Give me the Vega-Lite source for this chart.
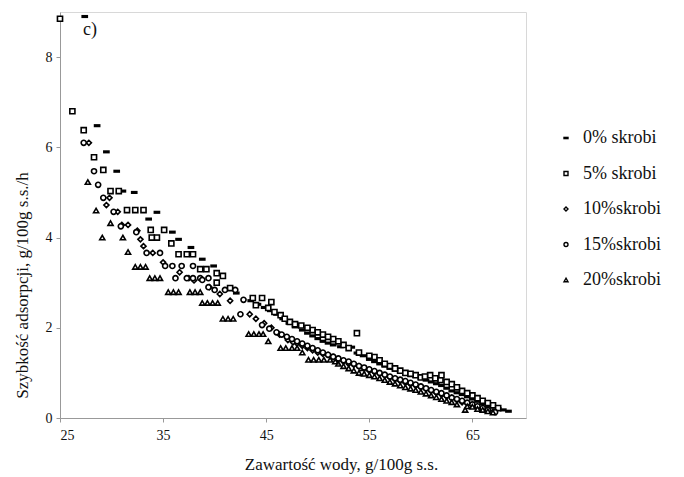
{
  "$schema": "https://vega.github.io/schema/vega-lite/v6.json",
  "width": 466,
  "height": 406,
  "autosize": {"type": "none"},
  "padding": {"left": 60, "top": 12, "right": 158, "bottom": 59},
  "background": "white",
  "config": {
    "font": "Liberation Serif",
    "view": {"stroke": "#d8d8d8", "strokeWidth": 1},
    "axis": {"grid": false, "domainColor": "#999999", "tickColor": "#999999", "tickSize": 4, "labelFont": "Liberation Serif", "labelFontSize": 14, "labelColor": "#111111", "titleFont": "Liberation Serif", "titleFontSize": 17, "titleFontWeight": "normal", "titleColor": "#111111"}
  },
  "datasets": {
    "pts": [
      {"s": "0% skrobi", "x": 27.4, "y": 8.9}, {"s": "0% skrobi", "x": 28.6, "y": 6.48}, {"s": "0% skrobi", "x": 29.5, "y": 5.9}, {"s": "0% skrobi", "x": 30.5, "y": 5.47}, {"s": "0% skrobi", "x": 31.1, "y": 5.03}, {"s": "0% skrobi", "x": 32.2, "y": 5.0}, {"s": "0% skrobi", "x": 33.6, "y": 4.41}, {"s": "0% skrobi", "x": 34.4, "y": 4.56}, {"s": "0% skrobi", "x": 35.9, "y": 4.12}, {"s": "0% skrobi", "x": 36.5, "y": 3.96}, {"s": "0% skrobi", "x": 37.7, "y": 3.78}, {"s": "0% skrobi", "x": 38.8, "y": 3.52}, {"s": "0% skrobi", "x": 39.9, "y": 3.37}, {"s": "0% skrobi", "x": 41.5, "y": 2.88}, {"s": "0% skrobi", "x": 42.1, "y": 2.77}, {"s": "0% skrobi", "x": 43.5, "y": 2.6}, {"s": "0% skrobi", "x": 44.8, "y": 2.45}, {"s": "0% skrobi", "x": 46.0, "y": 2.3}, {"s": "0% skrobi", "x": 47.2, "y": 2.1}, {"s": "0% skrobi", "x": 48.5, "y": 1.95}, {"s": "0% skrobi", "x": 49.5, "y": 1.82}, {"s": "0% skrobi", "x": 50.5, "y": 1.7}, {"s": "0% skrobi", "x": 51.5, "y": 1.62}, {"s": "0% skrobi", "x": 53.3, "y": 1.57}, {"s": "0% skrobi", "x": 53.8, "y": 1.44}, {"s": "0% skrobi", "x": 55.0, "y": 1.3}, {"s": "0% skrobi", "x": 56.0, "y": 1.2}, {"s": "0% skrobi", "x": 57.0, "y": 1.1}, {"s": "0% skrobi", "x": 58.0, "y": 1.02}, {"s": "0% skrobi", "x": 59.0, "y": 0.95}, {"s": "0% skrobi", "x": 60.0, "y": 0.88}, {"s": "0% skrobi", "x": 61.0, "y": 0.8}, {"s": "0% skrobi", "x": 62.0, "y": 0.72}, {"s": "0% skrobi", "x": 63.0, "y": 0.6}, {"s": "0% skrobi", "x": 64.0, "y": 0.52}, {"s": "0% skrobi", "x": 65.0, "y": 0.42}, {"s": "0% skrobi", "x": 66.0, "y": 0.32}, {"s": "0% skrobi", "x": 67.0, "y": 0.25}, {"s": "0% skrobi", "x": 68.0, "y": 0.18}, {"s": "0% skrobi", "x": 68.5, "y": 0.15},
      {"s": "0% skrobi", "x": 44.2, "y": 2.52}, {"s": "0% skrobi", "x": 45.4, "y": 2.38}, {"s": "0% skrobi", "x": 46.6, "y": 2.2}, {"s": "0% skrobi", "x": 47.8, "y": 2.02}, {"s": "0% skrobi", "x": 49.0, "y": 1.88}, {"s": "0% skrobi", "x": 50.0, "y": 1.76}, {"s": "0% skrobi", "x": 51.0, "y": 1.66}, {"s": "0% skrobi", "x": 52.2, "y": 1.58}, {"s": "0% skrobi", "x": 54.4, "y": 1.38}, {"s": "0% skrobi", "x": 55.5, "y": 1.25}, {"s": "0% skrobi", "x": 56.5, "y": 1.15}, {"s": "0% skrobi", "x": 57.5, "y": 1.06}, {"s": "0% skrobi", "x": 58.5, "y": 0.98}, {"s": "0% skrobi", "x": 59.5, "y": 0.92}, {"s": "0% skrobi", "x": 60.5, "y": 0.84}, {"s": "0% skrobi", "x": 61.5, "y": 0.76}, {"s": "0% skrobi", "x": 62.5, "y": 0.66}, {"s": "0% skrobi", "x": 63.5, "y": 0.56}, {"s": "0% skrobi", "x": 64.5, "y": 0.47}, {"s": "0% skrobi", "x": 65.5, "y": 0.37}, {"s": "0% skrobi", "x": 66.5, "y": 0.28}, {"s": "0% skrobi", "x": 67.5, "y": 0.21},

      {"s": "5% skrobi", "x": 25.0, "y": 8.85}, {"s": "5% skrobi", "x": 26.2, "y": 6.8}, {"s": "5% skrobi", "x": 27.3, "y": 6.38}, {"s": "5% skrobi", "x": 28.3, "y": 5.78}, {"s": "5% skrobi", "x": 29.2, "y": 5.5}, {"s": "5% skrobi", "x": 29.9, "y": 5.03}, {"s": "5% skrobi", "x": 30.7, "y": 5.03}, {"s": "5% skrobi", "x": 31.5, "y": 4.61}, {"s": "5% skrobi", "x": 32.3, "y": 4.61}, {"s": "5% skrobi", "x": 33.1, "y": 4.61}, {"s": "5% skrobi", "x": 33.8, "y": 4.17}, {"s": "5% skrobi", "x": 35.1, "y": 4.17}, {"s": "5% skrobi", "x": 34.4, "y": 4.0}, {"s": "5% skrobi", "x": 33.9, "y": 4.0}, {"s": "5% skrobi", "x": 35.8, "y": 3.87}, {"s": "5% skrobi", "x": 36.5, "y": 3.63}, {"s": "5% skrobi", "x": 37.3, "y": 3.63}, {"s": "5% skrobi", "x": 37.9, "y": 3.63}, {"s": "5% skrobi", "x": 38.6, "y": 3.3}, {"s": "5% skrobi", "x": 39.2, "y": 3.3}, {"s": "5% skrobi", "x": 40.2, "y": 3.21}, {"s": "5% skrobi", "x": 40.8, "y": 3.15}, {"s": "5% skrobi", "x": 40.2, "y": 3.0}, {"s": "5% skrobi", "x": 41.5, "y": 2.88}, {"s": "5% skrobi", "x": 43.7, "y": 2.66}, {"s": "5% skrobi", "x": 44.6, "y": 2.66}, {"s": "5% skrobi", "x": 45.5, "y": 2.57}, {"s": "5% skrobi", "x": 45.2, "y": 2.44}, {"s": "5% skrobi", "x": 46.4, "y": 2.28}, {"s": "5% skrobi", "x": 47.3, "y": 2.13}, {"s": "5% skrobi", "x": 48.4, "y": 2.05}, {"s": "5% skrobi", "x": 49.5, "y": 1.95}, {"s": "5% skrobi", "x": 50.5, "y": 1.85}, {"s": "5% skrobi", "x": 51.5, "y": 1.75}, {"s": "5% skrobi", "x": 53.8, "y": 1.88}, {"s": "5% skrobi", "x": 52.5, "y": 1.62}, {"s": "5% skrobi", "x": 54.3, "y": 1.0}, {"s": "5% skrobi", "x": 55.5, "y": 1.35}, {"s": "5% skrobi", "x": 57.0, "y": 1.15}, {"s": "5% skrobi", "x": 58.0, "y": 1.05}, {"s": "5% skrobi", "x": 59.5, "y": 0.95}, {"s": "5% skrobi", "x": 60.9, "y": 0.95}, {"s": "5% skrobi", "x": 61.9, "y": 0.84}, {"s": "5% skrobi", "x": 62.0, "y": 0.95}, {"s": "5% skrobi", "x": 63.0, "y": 0.75}, {"s": "5% skrobi", "x": 64.0, "y": 0.6}, {"s": "5% skrobi", "x": 65.0, "y": 0.5}, {"s": "5% skrobi", "x": 66.0, "y": 0.38}, {"s": "5% skrobi", "x": 67.0, "y": 0.28},
      {"s": "5% skrobi", "x": 47.8, "y": 2.08}, {"s": "5% skrobi", "x": 49.0, "y": 2.0}, {"s": "5% skrobi", "x": 50.0, "y": 1.9}, {"s": "5% skrobi", "x": 51.0, "y": 1.8}, {"s": "5% skrobi", "x": 52.0, "y": 1.7}, {"s": "5% skrobi", "x": 53.0, "y": 1.55}, {"s": "5% skrobi", "x": 54.0, "y": 1.45}, {"s": "5% skrobi", "x": 55.0, "y": 1.38}, {"s": "5% skrobi", "x": 56.0, "y": 1.28}, {"s": "5% skrobi", "x": 56.5, "y": 1.2}, {"s": "5% skrobi", "x": 57.5, "y": 1.1}, {"s": "5% skrobi", "x": 58.5, "y": 1.0}, {"s": "5% skrobi", "x": 59.0, "y": 0.98}, {"s": "5% skrobi", "x": 60.0, "y": 0.9}, {"s": "5% skrobi", "x": 60.4, "y": 0.92}, {"s": "5% skrobi", "x": 61.4, "y": 0.88}, {"s": "5% skrobi", "x": 62.5, "y": 0.8}, {"s": "5% skrobi", "x": 63.5, "y": 0.68}, {"s": "5% skrobi", "x": 64.5, "y": 0.55}, {"s": "5% skrobi", "x": 65.5, "y": 0.44}, {"s": "5% skrobi", "x": 66.5, "y": 0.33}, {"s": "5% skrobi", "x": 67.5, "y": 0.22}, {"s": "5% skrobi", "x": 44.0, "y": 2.5}, {"s": "5% skrobi", "x": 45.8, "y": 2.35}, {"s": "5% skrobi", "x": 46.8, "y": 2.2},

      {"s": "10%skrobi", "x": 27.8, "y": 6.1}, {"s": "10%skrobi", "x": 29.8, "y": 4.88}, {"s": "10%skrobi", "x": 29.5, "y": 4.72}, {"s": "10%skrobi", "x": 30.6, "y": 4.57}, {"s": "10%skrobi", "x": 31.0, "y": 4.28}, {"s": "10%skrobi", "x": 31.6, "y": 4.28}, {"s": "10%skrobi", "x": 32.5, "y": 4.15}, {"s": "10%skrobi", "x": 32.8, "y": 3.96}, {"s": "10%skrobi", "x": 33.1, "y": 3.81}, {"s": "10%skrobi", "x": 34.0, "y": 3.66}, {"s": "10%skrobi", "x": 36.6, "y": 3.23}, {"s": "10%skrobi", "x": 37.5, "y": 3.1}, {"s": "10%skrobi", "x": 39.5, "y": 2.9}, {"s": "10%skrobi", "x": 40.5, "y": 2.75}, {"s": "10%skrobi", "x": 41.5, "y": 2.6}, {"s": "10%skrobi", "x": 43.4, "y": 2.3}, {"s": "10%skrobi", "x": 44.0, "y": 2.2}, {"s": "10%skrobi", "x": 45.5, "y": 2.0}, {"s": "10%skrobi", "x": 47.1, "y": 1.73}, {"s": "10%skrobi", "x": 48.0, "y": 1.65}, {"s": "10%skrobi", "x": 49.0, "y": 1.55}, {"s": "10%skrobi", "x": 50.0, "y": 1.45}, {"s": "10%skrobi", "x": 51.0, "y": 1.4}, {"s": "10%skrobi", "x": 52.0, "y": 1.3}, {"s": "10%skrobi", "x": 53.0, "y": 1.2}, {"s": "10%skrobi", "x": 54.0, "y": 1.15}, {"s": "10%skrobi", "x": 55.0, "y": 1.05}, {"s": "10%skrobi", "x": 56.0, "y": 0.98}, {"s": "10%skrobi", "x": 57.0, "y": 0.9}, {"s": "10%skrobi", "x": 58.0, "y": 0.82}, {"s": "10%skrobi", "x": 59.0, "y": 0.75}, {"s": "10%skrobi", "x": 60.0, "y": 0.68}, {"s": "10%skrobi", "x": 61.0, "y": 0.6}, {"s": "10%skrobi", "x": 62.0, "y": 0.52}, {"s": "10%skrobi", "x": 63.0, "y": 0.45}, {"s": "10%skrobi", "x": 64.0, "y": 0.35}, {"s": "10%skrobi", "x": 65.0, "y": 0.28}, {"s": "10%skrobi", "x": 66.0, "y": 0.2}, {"s": "10%skrobi", "x": 67.0, "y": 0.14},
      {"s": "10%skrobi", "x": 44.8, "y": 2.1}, {"s": "10%skrobi", "x": 46.3, "y": 1.85}, {"s": "10%skrobi", "x": 47.6, "y": 1.68}, {"s": "10%skrobi", "x": 48.5, "y": 1.6}, {"s": "10%skrobi", "x": 49.5, "y": 1.5}, {"s": "10%skrobi", "x": 50.5, "y": 1.42}, {"s": "10%skrobi", "x": 51.5, "y": 1.35}, {"s": "10%skrobi", "x": 52.5, "y": 1.25}, {"s": "10%skrobi", "x": 53.5, "y": 1.18}, {"s": "10%skrobi", "x": 54.5, "y": 1.1}, {"s": "10%skrobi", "x": 55.5, "y": 1.02}, {"s": "10%skrobi", "x": 56.5, "y": 0.94}, {"s": "10%skrobi", "x": 57.5, "y": 0.86}, {"s": "10%skrobi", "x": 58.5, "y": 0.78}, {"s": "10%skrobi", "x": 59.5, "y": 0.72}, {"s": "10%skrobi", "x": 60.5, "y": 0.64}, {"s": "10%skrobi", "x": 61.5, "y": 0.56}, {"s": "10%skrobi", "x": 62.5, "y": 0.48}, {"s": "10%skrobi", "x": 63.5, "y": 0.4}, {"s": "10%skrobi", "x": 64.5, "y": 0.32}, {"s": "10%skrobi", "x": 65.5, "y": 0.24}, {"s": "10%skrobi", "x": 66.5, "y": 0.17}, {"s": "10%skrobi", "x": 38.0, "y": 3.05}, {"s": "10%skrobi", "x": 35.0, "y": 3.45},

      {"s": "15%skrobi", "x": 27.3, "y": 6.1}, {"s": "15%skrobi", "x": 28.3, "y": 5.47}, {"s": "15%skrobi", "x": 28.7, "y": 5.17}, {"s": "15%skrobi", "x": 29.2, "y": 4.88}, {"s": "15%skrobi", "x": 30.2, "y": 4.57}, {"s": "15%skrobi", "x": 30.9, "y": 4.25}, {"s": "15%skrobi", "x": 32.4, "y": 4.12}, {"s": "15%skrobi", "x": 33.4, "y": 3.66}, {"s": "15%skrobi", "x": 34.7, "y": 3.66}, {"s": "15%skrobi", "x": 35.2, "y": 3.37}, {"s": "15%skrobi", "x": 35.9, "y": 3.37}, {"s": "15%skrobi", "x": 36.8, "y": 3.37}, {"s": "15%skrobi", "x": 37.9, "y": 3.37}, {"s": "15%skrobi", "x": 36.2, "y": 3.1}, {"s": "15%skrobi", "x": 37.3, "y": 3.1}, {"s": "15%skrobi", "x": 37.9, "y": 3.1}, {"s": "15%skrobi", "x": 38.6, "y": 3.1}, {"s": "15%skrobi", "x": 39.4, "y": 3.1}, {"s": "15%skrobi", "x": 38.8, "y": 3.06}, {"s": "15%skrobi", "x": 39.4, "y": 2.9}, {"s": "15%skrobi", "x": 40.0, "y": 2.84}, {"s": "15%skrobi", "x": 41.0, "y": 2.84}, {"s": "15%skrobi", "x": 42.0, "y": 2.84}, {"s": "15%skrobi", "x": 42.8, "y": 2.62}, {"s": "15%skrobi", "x": 42.5, "y": 2.3}, {"s": "15%skrobi", "x": 44.6, "y": 2.06}, {"s": "15%skrobi", "x": 46.0, "y": 1.9}, {"s": "15%skrobi", "x": 47.0, "y": 1.8}, {"s": "15%skrobi", "x": 48.0, "y": 1.7}, {"s": "15%skrobi", "x": 49.0, "y": 1.6}, {"s": "15%skrobi", "x": 50.0, "y": 1.5}, {"s": "15%skrobi", "x": 51.0, "y": 1.4}, {"s": "15%skrobi", "x": 52.0, "y": 1.32}, {"s": "15%skrobi", "x": 53.0, "y": 1.25}, {"s": "15%skrobi", "x": 54.0, "y": 1.15}, {"s": "15%skrobi", "x": 55.0, "y": 1.08}, {"s": "15%skrobi", "x": 56.0, "y": 1.0}, {"s": "15%skrobi", "x": 57.0, "y": 0.92}, {"s": "15%skrobi", "x": 58.0, "y": 0.85}, {"s": "15%skrobi", "x": 59.0, "y": 0.78}, {"s": "15%skrobi", "x": 60.0, "y": 0.7}, {"s": "15%skrobi", "x": 61.0, "y": 0.62}, {"s": "15%skrobi", "x": 62.0, "y": 0.55}, {"s": "15%skrobi", "x": 63.0, "y": 0.45}, {"s": "15%skrobi", "x": 64.0, "y": 0.38}, {"s": "15%skrobi", "x": 65.0, "y": 0.3}, {"s": "15%skrobi", "x": 66.0, "y": 0.22}, {"s": "15%skrobi", "x": 67.2, "y": 0.13},
      {"s": "15%skrobi", "x": 45.3, "y": 1.98}, {"s": "15%skrobi", "x": 46.5, "y": 1.85}, {"s": "15%skrobi", "x": 47.5, "y": 1.75}, {"s": "15%skrobi", "x": 48.5, "y": 1.65}, {"s": "15%skrobi", "x": 49.5, "y": 1.55}, {"s": "15%skrobi", "x": 50.5, "y": 1.45}, {"s": "15%skrobi", "x": 51.5, "y": 1.36}, {"s": "15%skrobi", "x": 52.5, "y": 1.28}, {"s": "15%skrobi", "x": 53.5, "y": 1.2}, {"s": "15%skrobi", "x": 54.5, "y": 1.12}, {"s": "15%skrobi", "x": 55.5, "y": 1.04}, {"s": "15%skrobi", "x": 56.5, "y": 0.96}, {"s": "15%skrobi", "x": 57.5, "y": 0.88}, {"s": "15%skrobi", "x": 58.5, "y": 0.82}, {"s": "15%skrobi", "x": 59.5, "y": 0.74}, {"s": "15%skrobi", "x": 60.5, "y": 0.66}, {"s": "15%skrobi", "x": 61.5, "y": 0.58}, {"s": "15%skrobi", "x": 62.5, "y": 0.5}, {"s": "15%skrobi", "x": 63.5, "y": 0.42}, {"s": "15%skrobi", "x": 64.5, "y": 0.34}, {"s": "15%skrobi", "x": 65.5, "y": 0.26}, {"s": "15%skrobi", "x": 66.5, "y": 0.18},

      {"s": "20%skrobi", "x": 27.7, "y": 5.23}, {"s": "20%skrobi", "x": 28.5, "y": 4.6}, {"s": "20%skrobi", "x": 29.9, "y": 4.32}, {"s": "20%skrobi", "x": 29.1, "y": 4.0}, {"s": "20%skrobi", "x": 31.1, "y": 4.0}, {"s": "20%skrobi", "x": 31.6, "y": 3.68}, {"s": "20%skrobi", "x": 32.3, "y": 3.35}, {"s": "20%skrobi", "x": 32.8, "y": 3.35}, {"s": "20%skrobi", "x": 33.3, "y": 3.35}, {"s": "20%skrobi", "x": 33.7, "y": 3.1}, {"s": "20%skrobi", "x": 34.2, "y": 3.1}, {"s": "20%skrobi", "x": 34.7, "y": 3.1}, {"s": "20%skrobi", "x": 35.5, "y": 2.79}, {"s": "20%skrobi", "x": 36.0, "y": 2.79}, {"s": "20%skrobi", "x": 36.5, "y": 2.79}, {"s": "20%skrobi", "x": 37.6, "y": 2.79}, {"s": "20%skrobi", "x": 38.1, "y": 2.79}, {"s": "20%skrobi", "x": 38.6, "y": 2.79}, {"s": "20%skrobi", "x": 38.8, "y": 2.55}, {"s": "20%skrobi", "x": 39.3, "y": 2.55}, {"s": "20%skrobi", "x": 39.8, "y": 2.55}, {"s": "20%skrobi", "x": 40.3, "y": 2.55}, {"s": "20%skrobi", "x": 40.8, "y": 2.2}, {"s": "20%skrobi", "x": 41.3, "y": 2.2}, {"s": "20%skrobi", "x": 41.8, "y": 2.2}, {"s": "20%skrobi", "x": 43.3, "y": 1.86}, {"s": "20%skrobi", "x": 43.8, "y": 1.86}, {"s": "20%skrobi", "x": 44.3, "y": 1.86}, {"s": "20%skrobi", "x": 44.7, "y": 1.86}, {"s": "20%skrobi", "x": 46.4, "y": 1.55}, {"s": "20%skrobi", "x": 46.9, "y": 1.55}, {"s": "20%skrobi", "x": 47.5, "y": 1.55}, {"s": "20%skrobi", "x": 48.0, "y": 1.55}, {"s": "20%skrobi", "x": 49.1, "y": 1.29}, {"s": "20%skrobi", "x": 49.6, "y": 1.29}, {"s": "20%skrobi", "x": 50.1, "y": 1.29}, {"s": "20%skrobi", "x": 50.6, "y": 1.29}, {"s": "20%skrobi", "x": 51.2, "y": 1.29}, {"s": "20%skrobi", "x": 52.0, "y": 1.2}, {"s": "20%skrobi", "x": 53.0, "y": 1.1}, {"s": "20%skrobi", "x": 54.0, "y": 1.0}, {"s": "20%skrobi", "x": 55.0, "y": 0.95}, {"s": "20%skrobi", "x": 56.0, "y": 0.88}, {"s": "20%skrobi", "x": 57.0, "y": 0.8}, {"s": "20%skrobi", "x": 58.0, "y": 0.72}, {"s": "20%skrobi", "x": 59.0, "y": 0.65}, {"s": "20%skrobi", "x": 60.0, "y": 0.58}, {"s": "20%skrobi", "x": 61.0, "y": 0.5}, {"s": "20%skrobi", "x": 62.0, "y": 0.42}, {"s": "20%skrobi", "x": 63.0, "y": 0.35}, {"s": "20%skrobi", "x": 64.3, "y": 0.18}, {"s": "20%skrobi", "x": 65.0, "y": 0.25}, {"s": "20%skrobi", "x": 66.0, "y": 0.18}, {"s": "20%skrobi", "x": 67.0, "y": 0.12},
      {"s": "20%skrobi", "x": 52.5, "y": 1.15}, {"s": "20%skrobi", "x": 53.5, "y": 1.05}, {"s": "20%skrobi", "x": 54.5, "y": 0.98}, {"s": "20%skrobi", "x": 55.5, "y": 0.92}, {"s": "20%skrobi", "x": 56.5, "y": 0.84}, {"s": "20%skrobi", "x": 57.5, "y": 0.76}, {"s": "20%skrobi", "x": 58.5, "y": 0.68}, {"s": "20%skrobi", "x": 59.5, "y": 0.62}, {"s": "20%skrobi", "x": 60.5, "y": 0.54}, {"s": "20%skrobi", "x": 61.5, "y": 0.46}, {"s": "20%skrobi", "x": 62.5, "y": 0.38}, {"s": "20%skrobi", "x": 63.5, "y": 0.3}, {"s": "20%skrobi", "x": 64.5, "y": 0.26}, {"s": "20%skrobi", "x": 65.5, "y": 0.2}, {"s": "20%skrobi", "x": 66.5, "y": 0.15}, {"s": "20%skrobi", "x": 45.2, "y": 1.7}, {"s": "20%skrobi", "x": 48.5, "y": 1.45}, {"s": "20%skrobi", "x": 51.7, "y": 1.25}
    ],
    "lab": [{"x": 27.9, "y": 8.6, "t": "c)"}]
  },
  "layer": [
    {
      "data": {"name": "pts"},
      "mark": {"type": "point", "filled": false, "strokeWidth": 1.6, "size": 26, "opacity": 1},
      "encoding": {
        "x": {"field": "x", "type": "quantitative", "scale": {"domain": [25, 70.2], "nice": false, "zero": false}, "axis": {"values": [25, 35, 45, 55, 65], "title": "Zawartość wody, g/100g s.s.", "titleX": 281, "titleY": 38, "titleBaseline": "top", "labelPadding": 6}},
        "y": {"field": "y", "type": "quantitative", "scale": {"domain": [0, 9], "nice": false}, "axis": {"values": [0, 2, 4, 6, 8], "title": "Szybkość adsorpcji, g/100g s.s./h", "titleX": -38, "titleY": 273, "titleAngle": -90, "titleAlign": "center", "titleBaseline": "middle", "labelPadding": 4}},
        "shape": {"field": "s", "type": "nominal", "sort": ["0% skrobi", "5% skrobi", "10%skrobi", "15%skrobi", "20%skrobi"], "scale": {"domain": ["0% skrobi", "5% skrobi", "10%skrobi", "15%skrobi", "20%skrobi"], "range": ["M-1,-0.3H1V0.3H-1Z", "square", "diamond", "circle", "triangle-up"]}, "legend": {"title": null, "orient": "none", "legendX": 497, "legendY": 117, "labelFont": "Liberation Serif", "labelFontSize": 18, "labelColor": "#111111", "rowPadding": 17.5, "symbolSize": 16, "symbolStrokeWidth": 1.4, "labelOffset": 8}},
        "fill": {"field": "s", "type": "nominal", "scale": {"domain": ["0% skrobi", "5% skrobi", "10%skrobi", "15%skrobi", "20%skrobi"], "range": ["black", "white", "white", "white", "white"]}},
        "stroke": {"field": "s", "type": "nominal", "scale": {"domain": ["0% skrobi", "5% skrobi", "10%skrobi", "15%skrobi", "20%skrobi"], "range": ["black", "black", "black", "black", "black"]}}
      }
    },
    {
      "data": {"name": "lab"},
      "mark": {"type": "text", "font": "Liberation Serif", "fontSize": 18, "align": "center", "baseline": "middle", "color": "#111111"},
      "encoding": {
        "x": {"field": "x", "type": "quantitative"},
        "y": {"field": "y", "type": "quantitative"},
        "text": {"field": "t"}
      }
    }
  ]
}
